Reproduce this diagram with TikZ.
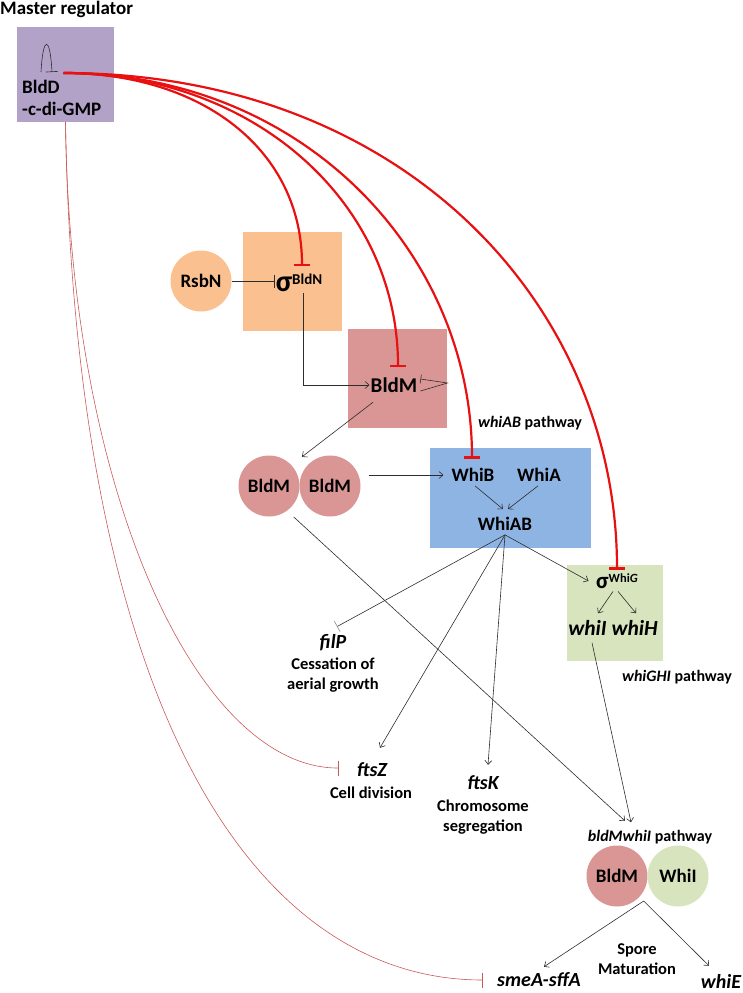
\documentclass[tikz,border=0pt]{standalone}
\usepackage{fontspec}
\setmainfont{Carlito}
\usepackage{tikz}
\usetikzlibrary{arrows.meta,positioning}
\definecolor{mPurple}{RGB}{179,162,199}
\definecolor{mOrange}{RGB}{250,192,144}
\definecolor{mRose}{RGB}{217,150,148}
\definecolor{mBlue}{RGB}{142,180,227}
\definecolor{mGreen}{RGB}{215,228,189}
\definecolor{mRed}{RGB}{232,16,16}
\definecolor{mDull}{RGB}{200,90,88}
\definecolor{mInk}{RGB}{45,45,45}

\begin{document}
\begin{tikzpicture}[x=1pt, y=-1pt,
    box/.style    ={rectangle, inner sep=0pt},
    disc/.style   ={circle, minimum size=61pt, inner sep=0pt,
                    font=\bfseries\fontsize{19}{22}\selectfont},
    prot/.style   ={inner sep=1pt, font=\bfseries\fontsize{19}{22}\selectfont},
    gene/.style   ={inner sep=1pt, font=\bfseries\itshape\fontsize{20}{22}\selectfont},
    desc/.style   ={inner sep=1pt, align=center,
                    font=\bfseries\fontsize{16.5}{20}\selectfont},
    lbl/.style    ={inner sep=1pt, font=\bfseries\fontsize{16}{18}\selectfont},
    act/.style    ={-{Straight Barb[length=4pt,width=7pt]}, line width=0.6pt, draw=mInk},
    rep/.style    ={-{Bar[width=16pt]}, line width=2.2pt, draw=mRed},
    repthin/.style={-{Bar[width=15pt]}, line width=0.6pt, draw=mDull},
    repink/.style ={-{Bar[width=12pt]}, line width=0.6pt, draw=mInk}
]
\useasboundingbox (0,0) rectangle (742,993);

\node[prot, anchor=west, inner sep=0pt] (title) at (0,9) {Master regulator};
\node[box, fill=mPurple, minimum width=97pt, minimum height=95pt] (bldd) at (65.5,74.5) {};
\node[prot, anchor=west, align=left] (bldd-txt) at (21,98) {BldD\\-c-di-GMP};

\node[disc, fill=mOrange] (rsbn) at (201,281) {RsbN};
\node[box, fill=mOrange, minimum width=99pt, minimum height=99pt] (bldn) at (292.5,281.5) {};
\node[prot] (sign) at (299,283) {{\fontsize{30}{30}\selectfont σ}\raisebox{7pt}{\fontsize{15}{15}\selectfont BldN}};

\node[box, fill=mRose, minimum width=99pt, minimum height=99pt] (bldmbox) at (397.5,378.5) {};
\node[prot, font=\bfseries\fontsize{21}{24}\selectfont] (bldm) at (394,385) {BldM};

\node[disc, fill=mRose] (dimA) at (269,486) {BldM};
\node[disc, fill=mRose] (dimB) at (330,486) {BldM};

\node[box, fill=mBlue, minimum width=161pt, minimum height=100pt] (whibox) at (510.5,498) {};
\node[prot] (whib) at (473,475) {WhiB};
\node[prot] (whia) at (539,475) {WhiA};
\node[prot] (whiab) at (505,524) {WhiAB};
\node[lbl] (ablbl) at (530,423) {\textit{whiAB} pathway};

\node[box, fill=mGreen, minimum width=96pt, minimum height=96pt] (whgbox) at (615,613) {};
\node[prot] (sigg) at (617,581) {{\fontsize{23}{23}\selectfont σ}\raisebox{5.5pt}{\fontsize{12.5}{12.5}\selectfont Whi\textit{G}}};
\node[gene, font=\bfseries\itshape\fontsize{21.5}{24}\selectfont] (whiih) at (613,628) {whiI whiH};
\node[lbl] (ghilbl) at (677,677) {\textit{whiGHI} pathway};

\node[gene] (filp) at (333,643) {filP};
\node[desc] (filpd) at (333,675) {Cessation of\\aerial growth};
\node[gene] (ftsz) at (372,770) {ftsZ};
\node[desc] (ftszd) at (371,793) {Cell division};
\node[gene] (ftsk) at (483,783) {ftsK};
\node[desc] (ftskd) at (483,817.5) {Chromosome\\segregation};

\node[lbl] (mwlbl) at (650,837) {\textit{bldMwhiI} pathway};
\node[disc, fill=mRose] (bldm2) at (617,876) {BldM};
\node[disc, fill=mGreen] (whii) at (678,876) {WhiI};
\node[desc] (spore) at (637,959) {Spore\\Maturation};
\node[gene] (smea) at (539,980) {smeA-sffA};
\node[gene] (whie) at (721,981) {whiE};

\coordinate (hub) at ([xshift=-2pt,yshift=1.5pt]bldd.center);
\coordinate (fan) at ([yshift=-3pt]whiab.south);
\coordinate (mat) at ([xshift=-4pt,yshift=-25pt]bldm2.east);

\draw[repink] ([xshift=-24.5pt,yshift=2.5pt]bldd.center) .. controls +(2,-37) and +(-2,-37) .. ([xshift=-13.5pt,yshift=2.5pt]bldd.center);
\draw[rep] (hub) .. controls +(140,0) and +(0,-115) .. ([xshift=3pt,yshift=7pt]sign.north);
\draw[rep] (hub) .. controls +(190,0) and +(0,-165) .. ([xshift=4pt,yshift=9.5pt]bldm.north);
\draw[rep] (hub) .. controls +(240,0) and +(0,-205) .. ([xshift=-1pt,yshift=8.5pt]whib.north);
\draw[rep] (hub) .. controls +(340,0) and +(0,-265) .. ([yshift=3pt]sigg.north);
\draw[repthin] (bldd.south) .. controls (70,500) and (200,768) .. ([xshift=-17.5pt,yshift=2pt]ftsz.west);
\draw[repthin] (bldd.south) .. controls (75,700) and (250,980) .. ([xshift=-13pt,yshift=0pt]smea.west);

\draw[repink, -{Bar[width=13pt]}] (rsbn.east) -- (rsbn.east -| sign.west);
\draw[act] ([xshift=4pt]sign.south) |- (bldm.west);
\draw[repink, -{Bar[width=9pt]}] ([xshift=2pt,yshift=-6pt]bldm.east) -- ++(27,-8) -- ([xshift=2pt,yshift=6pt]bldm.east);
\draw[act] ([xshift=-21pt,yshift=-8.6pt]bldm.south) -- ([xshift=-6.4pt,yshift=7.4pt]dimB.north west);
\draw[act, shorten <=8pt, shorten >=7pt] (dimB.east |- whib.west) -- (whib.west);
\draw[act] ([xshift=2pt,yshift=-3pt]whib.south) -- ([xshift=-2pt,yshift=7pt]whiab.north);
\draw[act] ([xshift=-1pt,yshift=-3pt]whia.south) -- ([xshift=3pt,yshift=7pt]whiab.north);

\draw[repink, -{Bar[width=12pt, color=mInk!55]}] (fan) -- ([xshift=4pt,yshift=7pt]filp.north);
\draw[act] (fan) -- ([xshift=8pt,yshift=14pt]ftsz.north);
\draw[act] (fan) -- ([xshift=5pt,yshift=10pt]ftsk.north);
\draw[act] (fan) -- ([xshift=-6.5pt]sigg.west);

\draw[act] ([xshift=-4pt,yshift=-2pt]sigg.south) -- ([xshift=-15pt,yshift=6pt]whiih.north);
\draw[act] ([xshift=1pt,yshift=-2pt]sigg.south) -- ([xshift=23pt,yshift=6pt]whiih.north);
\draw[act] ([xshift=-21pt,yshift=-6pt]whiih.south) -- ([xshift=-19pt,yshift=6.6pt]mwlbl.north);
\draw[act, shorten <=9pt] (dimA.-54) -- ([xshift=-25pt,yshift=8pt]mwlbl.north);

\draw[act] (mat) -- ([xshift=5pt,yshift=5pt]smea.north);
\draw[act] (mat) -- ([xshift=-12pt,yshift=7pt]whie.north);
\end{tikzpicture}
\end{document}
